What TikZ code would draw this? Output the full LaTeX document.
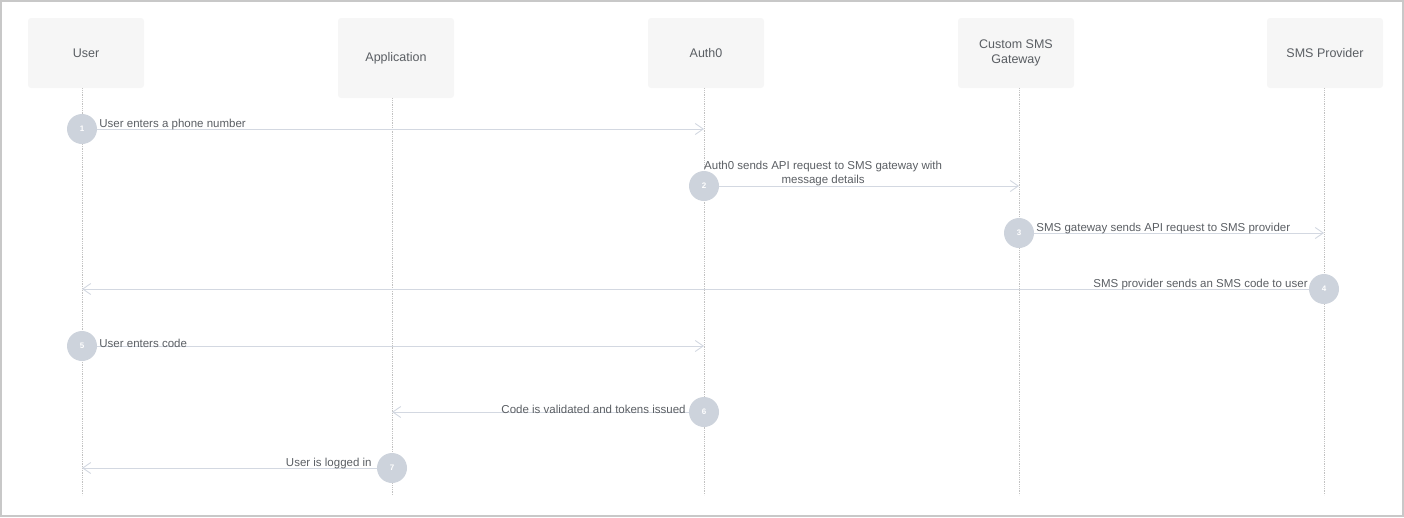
\documentclass[tikz,border=0pt]{standalone}
\usepackage{fontspec}
\setmainfont{Liberation Sans}
\usepackage{tikz}
\usetikzlibrary{arrows.meta}
\definecolor{boxgray}{HTML}{F6F6F6}
\definecolor{txtgray}{HTML}{5A5E63}
\definecolor{dotgray}{HTML}{CDD3DC}
\definecolor{msgcol}{HTML}{D3D8E1}
\definecolor{lifecol}{HTML}{C2C2C2}
\definecolor{framecol}{HTML}{C8C8C8}
\begin{document}
\begin{tikzpicture}[x=1pt,y=-1pt,
        actor/.style={fill=boxgray,rounded corners=3pt,minimum width=116pt,minimum height=70pt,
                text=txtgray,align=center,font=\fontsize{12.5}{15}\selectfont},
        stepdot/.style={circle,fill=dotgray,minimum size=30pt,inner sep=0pt,text=white,
                font=\fontsize{8}{9}\selectfont\bfseries},
        msg/.style={draw=msgcol,line width=0.9pt,-{Straight Barb[length=8pt,width=11pt]}},
        life/.style={draw=lifecol,line width=0.8pt,densely dotted},
        lbl/.style={text=txtgray,font=\fontsize{11.5}{14.5}\selectfont,inner xsep=2pt,inner ysep=0.5pt,yshift=-2pt}] % SMS login sequence
        \useasboundingbox (0,0) rectangle (1404,517);
        \draw[framecol,line width=2pt] (1,1) rectangle (1403,516);
        % participants
        \node[actor] (user) at (86,53) {User};
        \node[actor,minimum height=80pt] (app) at (396,58) {Application};
        \node[actor] (auth) at (706,53) {Auth0};
        \node[actor] (gate) at (1016,53) {Custom SMS\\Gateway};
        \node[actor] (prov) at (1325,53) {SMS Provider};
        \coordinate (uEnd) at (82,495);
        \coordinate (aEnd) at (392,495);
        \coordinate (oEnd) at (704,495);
        \coordinate (gEnd) at (1019,495);
        \coordinate (pEnd) at (1324,495);
        \draw[life] (user.south -| uEnd) -- (uEnd);
        \draw[life] (app.south -| aEnd) -- (aEnd);
        \draw[life] (auth.south -| oEnd) -- (oEnd);
        \draw[life] (gate.south -| gEnd) -- (gEnd);
        \draw[life] (prov.south -| pEnd) -- (pEnd);
        % steps
        \node[stepdot] (s1) at (82,129) {1};
        \node[stepdot] (s2) at (704,186) {2};
        \node[stepdot] (s3) at (1019,233) {3};
        \node[stepdot] (s4) at (1324,289) {4};
        \node[stepdot] (s5) at (82,346) {5};
        \node[stepdot] (s6) at (704,412) {6};
        \node[stepdot] (s7) at (392,468) {7};
        \draw[msg] (s1.east) -- (s1 -| oEnd);
        \draw[msg] (s2.east) -- (s2 -| gEnd);
        \draw[msg] (s3.east) -- (s3 -| pEnd);
        \draw[msg] (s4.west) -- (s4 -| uEnd);
        \draw[msg] (s5.east) -- (s5 -| oEnd);
        \draw[msg] (s6.west) -- (s6 -| aEnd);
        \draw[msg] (s7.west) -- (s7 -| uEnd);
        \node[lbl,anchor=south west] (m1) at (s1.east) {User enters a phone number};
        \node[lbl,anchor=south west,align=center,inner xsep=0pt,yshift=1pt] (m2) at (s2.center) {Auth0 sends API request to SMS gateway with\\message details};
        \node[lbl,anchor=south west] (m3) at (s3.east) {SMS gateway sends API request to SMS provider};
        \node[lbl,anchor=south east,inner xsep=1pt] (m4) at (s4.west) {SMS provider sends an SMS code to user};
        \node[lbl,anchor=south west] (m5) at (s5.east) {User enters code};
        \node[lbl,anchor=south east,inner xsep=3pt] (m6) at (s6.west) {Code is validated and tokens issued};
        \node[lbl,anchor=south east,inner xsep=5pt] (m7) at (s7.west) {User is logged in};
\end{tikzpicture}
\end{document}
